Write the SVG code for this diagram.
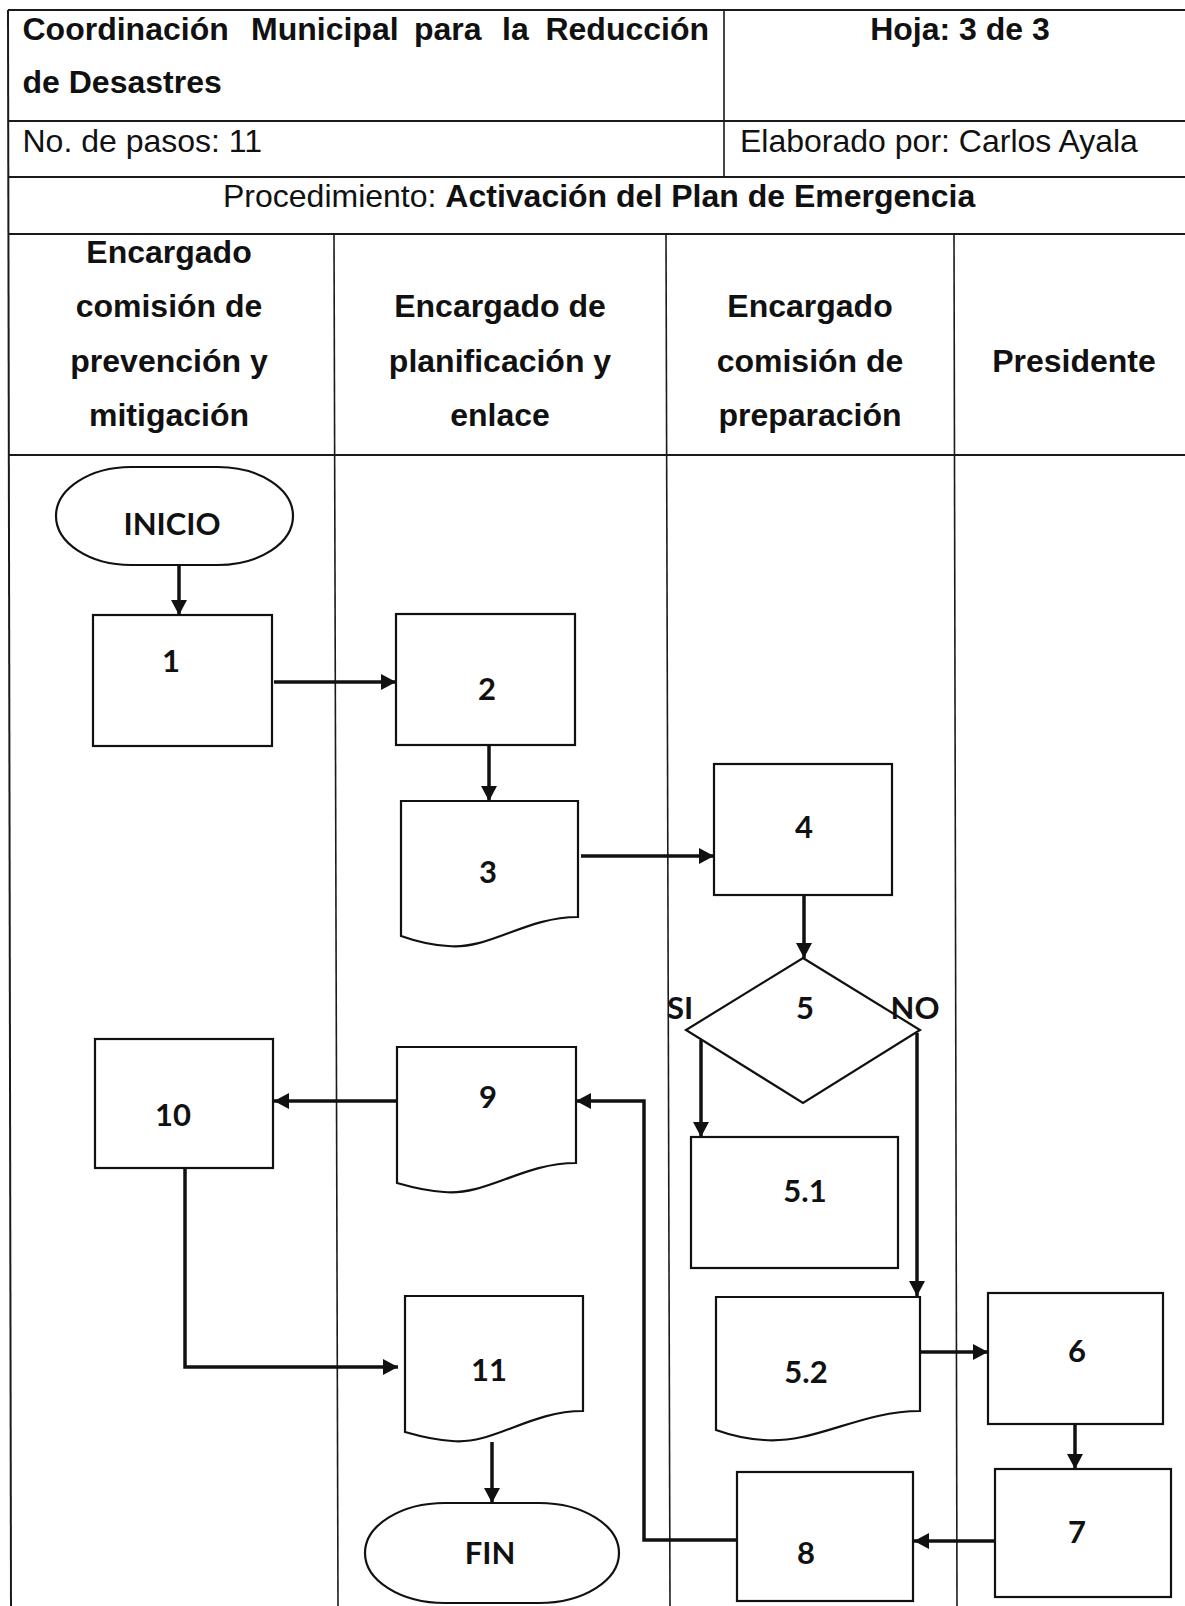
<svg xmlns="http://www.w3.org/2000/svg" width="1185" height="1606" viewBox="0 0 1185 1606">
<style>
.hd{font-family:"Liberation Sans",Arial,sans-serif;font-size:32px;fill:#111}
.b{font-weight:bold}
.tl{stroke:#1a1a1a;stroke-width:2;fill:none}
.ln{stroke:#1a1a1a;stroke-width:1.6;fill:none}
.shape{fill:#fff;stroke:#111;stroke-width:2.2}
.lbl{font-family:Lato,"Open Sans",sans-serif;font-weight:bold;font-size:31px;fill:#111;text-anchor:middle}
.cn{stroke:#111;stroke-width:3.5;fill:none}
.ca{stroke:#111;stroke-width:3.5;fill:none;marker-end:url(#ah)}
</style>
<defs>
<marker id="ah" markerUnits="userSpaceOnUse" markerWidth="16" markerHeight="16" refX="15" refY="8" orient="auto">
<path d="M0,0 L15,8 L0,16 z" fill="#111"/>
</marker>
</defs>
<rect x="0" y="0" width="1185" height="1606" fill="#fff"/>

<g id="table">
<line class="tl" x1="8" y1="10" x2="1185" y2="10"/>
<line class="tl" x1="8" y1="121" x2="1185" y2="121"/>
<line class="tl" x1="8" y1="177" x2="1185" y2="177"/>
<line class="tl" x1="8" y1="234" x2="1185" y2="234"/>
<line class="tl" x1="8" y1="455" x2="1185" y2="455"/>
<line class="tl" x1="8" y1="10" x2="11" y2="1606"/>
<line class="ln" x1="724" y1="10" x2="724" y2="177"/>
<line class="ln" x1="334" y1="234" x2="338" y2="1606"/>
<line class="ln" x1="666" y1="234" x2="670" y2="1606"/>
<line class="ln" x1="954" y1="234" x2="957" y2="1606"/>
</g>

<g id="header-text">
<text class="hd b" x="22.5" y="40">Coordinación</text>
<text class="hd b" x="251" y="40">Municipal</text>
<text class="hd b" x="414" y="40">para</text>
<text class="hd b" x="502" y="40">la</text>
<text class="hd b" x="709" y="40" text-anchor="end">Reducción</text>
<text class="hd b" x="22.5" y="93">de Desastres</text>
<text class="hd b" x="960" y="40" text-anchor="middle">Hoja: 3 de 3</text>
<text class="hd" x="22.5" y="152">No. de pasos: 11</text>
<text class="hd" x="740" y="152">Elaborado por: Carlos Ayala</text>
<text class="hd" x="223" y="207">Procedimiento: <tspan class="b">Activación del Plan de Emergencia</tspan></text>
</g>

<g id="lanes">
<g id="lane1" class="hd b" text-anchor="middle">
<text x="169" y="263">Encargado</text>
<text x="169" y="317">comisión de</text>
<text x="169" y="372">prevención y</text>
<text x="169" y="426">mitigación</text>
</g>
<g id="lane2" class="hd b" text-anchor="middle">
<text x="500" y="317">Encargado de</text>
<text x="500" y="372">planificación y</text>
<text x="500" y="426">enlace</text>
</g>
<g id="lane3" class="hd b" text-anchor="middle">
<text x="810" y="317">Encargado</text>
<text x="810" y="372">comisión de</text>
<text x="810" y="426">preparación</text>
</g>
<g id="lane4" class="hd b" text-anchor="middle">
<text x="1074" y="372">Presidente</text>
</g>
</g>

<g id="connectors">
<line class="ca" x1="179" y1="565" x2="179" y2="615"/>
<line class="ca" x1="274" y1="682" x2="396" y2="682"/>
<line class="ca" x1="489" y1="745" x2="489" y2="801"/>
<line class="ca" x1="581" y1="856" x2="714" y2="856"/>
<line class="ca" x1="804" y1="895" x2="804" y2="958"/>
<line class="ca" x1="701" y1="1040" x2="701" y2="1137"/>
<line class="ca" x1="917" y1="1033" x2="917" y2="1296"/>
<line class="ca" x1="919" y1="1352" x2="988" y2="1352"/>
<line class="ca" x1="1075" y1="1424" x2="1075" y2="1469"/>
<line class="ca" x1="995" y1="1541" x2="914" y2="1541"/>
<polyline class="ca" points="737,1540 644,1540 644,1101 576,1101"/>
<line class="ca" x1="397" y1="1101" x2="274" y2="1101"/>
<polyline class="ca" points="185,1168 185,1367 398,1367"/>
<line class="ca" x1="492" y1="1442" x2="492" y2="1503"/>
</g>

<g id="n-inicio">
<rect class="shape" x="56" y="467" width="237" height="98" rx="75" ry="49"/>
<text class="lbl" x="172" y="535">INICIO</text>
</g>
<g id="n1">
<rect class="shape" x="93" y="615" width="179" height="131"/>
<text class="lbl" x="171" y="672">1</text>
</g>
<g id="n2">
<rect class="shape" x="396" y="614" width="179" height="131"/>
<text class="lbl" x="487" y="700">2</text>
</g>
<g id="n3">
<path class="shape" d="M401,801 H578 V917 C525,917 490,950 448,946 C430,945 415,941 401,936 Z"/>
<text class="lbl" x="488" y="883">3</text>
</g>
<g id="n4">
<rect class="shape" x="714" y="764" width="178" height="131"/>
<text class="lbl" x="804" y="838">4</text>
</g>
<g id="n5">
<polygon class="shape" points="803,958 920,1030 803,1103 686,1030"/>
<text class="lbl" x="805" y="1019">5</text>
<text class="lbl" x="680" y="1019">SI</text>
<text class="lbl" x="915" y="1019">NO</text>
</g>
<g id="n5-1">
<rect class="shape" x="691" y="1137" width="207" height="131"/>
<text class="lbl" x="805" y="1202">5.1</text>
</g>
<g id="n5-2">
<path class="shape" d="M716,1297 H920 V1411 C860,1411 815,1444 764,1440 C745,1439 730,1435 716,1430 Z"/>
<text class="lbl" x="806" y="1383">5.2</text>
</g>
<g id="n6">
<rect class="shape" x="988" y="1293" width="175" height="131"/>
<text class="lbl" x="1077" y="1362">6</text>
</g>
<g id="n7">
<rect class="shape" x="995" y="1469" width="176" height="128"/>
<text class="lbl" x="1077" y="1543">7</text>
</g>
<g id="n8">
<rect class="shape" x="737" y="1472" width="176" height="129"/>
<text class="lbl" x="806" y="1564">8</text>
</g>
<g id="n9">
<path class="shape" d="M397,1047 H576 V1163 C522,1163 487,1196 444,1192 C425,1191 411,1187 397,1183 Z"/>
<text class="lbl" x="488" y="1108">9</text>
</g>
<g id="n10">
<rect class="shape" x="95" y="1039" width="178" height="129"/>
<text class="lbl" x="173" y="1126">10</text>
</g>
<g id="n11">
<path class="shape" d="M405,1296 H583 V1411 C529,1411 494,1445 452,1441 C433,1440 419,1436 405,1432 Z"/>
<text class="lbl" x="489" y="1381">11</text>
</g>
<g id="n-fin">
<rect class="shape" x="365" y="1503" width="254" height="100" rx="80" ry="50"/>
<text class="lbl" x="490" y="1564">FIN</text>
</g>
</svg>
